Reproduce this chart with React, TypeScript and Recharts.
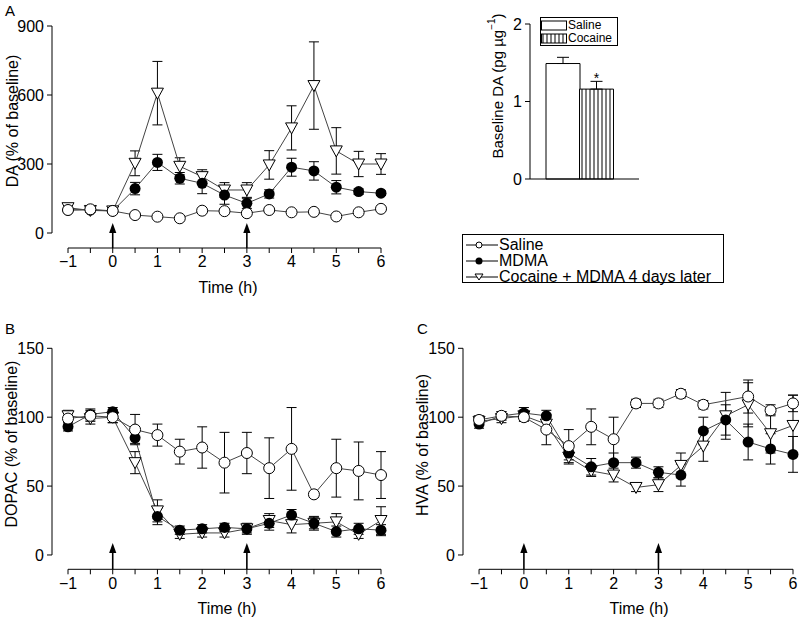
import React from 'react';
import {
  LineChart,
  Line,
  XAxis,
  YAxis,
  ErrorBar,
  ReferenceLine,
  Label,
  Legend,
  BarChart,
  Bar,
  Cell,
  LabelList,
} from 'recharts';

const FONT = '"Liberation Sans", Arial, Helvetica, sans-serif';

// time points (h)
const times = [-1, -0.5, 0, 0.5, 1, 1.5, 2, 2.5, 3, 3.5, 4, 4.5, 5, 5.5, 6];
const hourTicks = [-1, -0.5, 0, 0.5, 1, 1.5, 2, 2.5, 3, 3.5, 4, 4.5, 5, 5.5, 6];
const arrowTimes = [0, 3];
const seriesNames = ['Saline', 'MDMA', 'Cocaine + MDMA 4 days later'];

// A: DA
const daSaline = [100, 103, 96, 78, 71, 64, 97, 95, 86, 100, 90, 92, 72, 90, 105];
const daSalineErr = [6, 6, 6, 6, 6, 6, 8, 8, 6, 6, 6, 6, 6, 6, 6];
const daMdma = [100, 100, 96, 193, 307, 238, 216, 165, 129, 170, 286, 270, 199, 180, 173];
const daMdmaErr = [8, 8, 8, 27, 35, 25, 45, 40, 22, 18, 39, 40, 29, 12, 10];
const daCocaine = [110, 98, 96, 303, 608, 290, 245, 187, 187, 296, 457, 641, 357, 300, 300];
const daCocaineErr = [12, 8, 8, 54, 138, 37, 30, 32, 32, 62, 96, 190, 101, 55, 45];

// B: DOPAC
const dopacSaline = [99, 101, 100, 91, 87, 75, 78, 67, 74, 63, 77, 44, 63, 61, 58];
const dopacSalineErr = [4, 4, 4, 11, 8, 9, 15, 22, 15, 22, 30, 2, 21, 21, 17];
const dopacMdma = [93, 102, 104, 85, 28, 18, 19, 20, 19, 23, 29, 23, 17, 19, 18];
const dopacMdmaErr = [3, 4, 3, 4, 6, 3, 3, 3, 3, 5, 4, 5, 4, 4, 4];
const dopacCocaine = [101, 99, 100, 67, 32, 15, 16, 16, 19, 25, 22, 23, 24, 15, 25];
const dopacCocaineErr = [4, 4, 4, 8, 8, 3, 3, 3, 4, 5, 6, 4, 6, 3, 10];

// C: HVA
const hvaSaline = [98, 101, 100, 91, 79, 93, 84, 110, 110, 117, 109, null, 115, 105, 110];
const hvaSalineErr = [3, 3, 3, 11, 12, 13, 16, 3, 3, 3, 3, null, 12, 4, 6];
const hvaMdma = [95, 101, 103, 101, 74, 64, 67, 67, 60, 58, 90, 98, 82, 77, 73];
const hvaMdmaErr = [3, 3, 4, 4, 5, 6, 7, 4, 4, 8, 10, 11, 13, 11, 13];
const hvaCocaine = [97, 99, 101, 95, 71, 61, 58, 49, 51, 65, 79, 101, 109, 88, 94];
const hvaCocaineErr = [3, 3, 3, 5, 5, 4, 5, 3, 5, 9, 11, 17, 16, 14, 22];

// inset: baseline DA
const insetGroups = ['Saline', 'Cocaine'];
const insetValues = [1.49, 1.16];
const insetErrors = [0.08, 0.1];
const insetMarks = ['', '*'];

const X_MIN = -1.358;

const fmtHour = (v: number) =>
  Number.isInteger(v) ? (v < 0 ? `\u2212${-v}` : `${v}`) : '';

const makeRows = (
  sal: (number | null)[],
  salErr: (number | null)[],
  mdma: number[],
  mdmaErr: number[],
  coc: number[],
  cocErr: number[]
) =>
  times.map((t, i) => ({
    t,
    sal: sal[i],
    salErr: salErr[i],
    mdma: mdma[i],
    mdmaErr: mdmaErr[i],
    coc: coc[i],
    cocErr: cocErr[i],
  }));

const daRows = makeRows(daSaline, daSalineErr, daMdma, daMdmaErr, daCocaine, daCocaineErr);
const dopacRows = makeRows(dopacSaline, dopacSalineErr, dopacMdma, dopacMdmaErr, dopacCocaine, dopacCocaineErr);
const hvaRows = makeRows(hvaSaline, hvaSalineErr, hvaMdma, hvaMdmaErr, hvaCocaine, hvaCocaineErr);

const insetRows = insetGroups.map((g, i) => ({
  group: g,
  value: insetValues[i],
  err: [0, insetErrors[i]],
  mark: insetMarks[i],
}));

// markers
const openCircle = (p: any) =>
  p.cy == null || p.value == null ? (
    <g key={p.index} />
  ) : (
    <circle key={p.index} cx={p.cx} cy={p.cy} r={5.5} fill="#fff" stroke="#000" strokeWidth={1} />
  );

const filledCircle = (p: any) =>
  p.cy == null ? <g key={p.index} /> : <circle key={p.index} cx={p.cx} cy={p.cy} r={5.5} fill="#000" />;

const downTriangle = (p: any) => {
  if (p.cy == null) return <g key={p.index} />;
  const { cx, cy } = p;
  return (
    <polygon
      key={p.index}
      points={`${cx - 6},${cy - 5} ${cx + 6},${cy - 5} ${cx},${cy + 6}`}
      fill="#fff"
      stroke="#000"
      strokeWidth={1}
    />
  );
};

const arrowShape = (p: any) => {
  const { x1, y1, x2, y2 } = p;
  return (
    <g>
      <line x1={x1} y1={y1} x2={x2} y2={y2 + 8} stroke="#000" strokeWidth={1.6} />
      <polygon points={`${x2},${y2} ${x2 - 3.6},${y2 + 10} ${x2 + 3.6},${y2 + 10}`} fill="#000" />
    </g>
  );
};

const sideTitle = (text: string, x: number, y: number) => () => (
  <text
    x={x}
    y={y}
    transform={`rotate(-90 ${x} ${y})`}
    textAnchor="middle"
    dominantBaseline="central"
    fontSize={16}
    fontFamily={FONT}
    fill="#000"
  >
    {text}
  </text>
);

const bottomTitle = (x: number, y: number) => () => (
  <text x={x} y={y} textAnchor="middle" dominantBaseline="central" fontSize={16} fontFamily={FONT} fill="#000">
    Time (h)
  </text>
);

const tickStyle = { fill: '#000', fontSize: 16, fontFamily: FONT };

const SeriesKey = () => (
  <div
    style={{
      boxSizing: 'border-box',
      width: 262,
      height: 49,
      border: '1px solid #000',
      paddingTop: 2,
      paddingLeft: 2,
      fontFamily: FONT,
      fontSize: 16,
      lineHeight: '16px',
      background: '#fff',
    }}
  >
    {seriesNames.map((name, i) => (
      <div key={name} style={{ display: 'flex', alignItems: 'center', height: 16 }}>
        <svg width={34} height={14} style={{ display: 'block' }}>
          <line x1={1} y1={7} x2={33} y2={7} stroke="#000" strokeWidth={1} />
          {i === 0 && <circle cx={14} cy={7} r={3} fill="#fff" stroke="#000" />}
          {i === 1 && <circle cx={14} cy={7} r={3.5} fill="#000" />}
          {i === 2 && <polygon points="10,4 18,4 14,10" fill="#fff" stroke="#000" />}
        </svg>
        <span>{name}</span>
      </div>
    ))}
  </div>
);

const InsetKey = () => (
  <div
    style={{
      boxSizing: 'border-box',
      width: 78,
      height: 29,
      border: '1px solid #000',
      paddingTop: 0.5,
      fontFamily: FONT,
      fontSize: 12,
      lineHeight: '13.5px',
      background: '#fff',
    }}
  >
    {insetGroups.map((g) => (
      <div key={g} style={{ display: 'flex', alignItems: 'center', height: 13.5 }}>
        <svg width={27} height={11} style={{ display: 'block' }}>
          <rect
            x={0.5}
            y={1}
            width={25}
            height={9}
            fill={g === 'Cocaine' ? 'url(#vstripes)' : '#fff'}
            stroke="#000"
          />
        </svg>
        <span style={{ whiteSpace: 'nowrap' }}>{g}</span>
      </div>
    ))}
  </div>
);

type PanelProps = {
  width: number;
  height: number;
  top: number;
  right: number;
  xAxisHeight: number;
  data: any[];
  yMin: number;
  yMax: number;
  yTicks: number[];
  arrowTip: number;
  yTitle: string;
  yTitlePos: [number, number];
  xTitlePos: [number, number];
  withKey?: boolean;
};

const TimeCourse = ({
  width,
  height,
  top,
  right,
  xAxisHeight,
  data,
  yMin,
  yMax,
  yTicks,
  arrowTip,
  yTitle,
  yTitlePos,
  xTitlePos,
  withKey,
}: PanelProps) => (
  <LineChart width={width} height={height} data={data} margin={{ top, right, left: 0, bottom: 0 }}>
    <XAxis
      dataKey="t"
      type="number"
      domain={[X_MIN, 6]}
      ticks={hourTicks}
      interval={0}
      tickFormatter={fmtHour}
      axisLine={false}
      tickLine={{ stroke: '#000' }}
      tickSize={5}
      tickMargin={3}
      height={xAxisHeight}
      tick={tickStyle}
    >
      <Label content={bottomTitle(xTitlePos[0], xTitlePos[1])} />
    </XAxis>
    <YAxis
      type="number"
      domain={[yMin, yMax]}
      ticks={yTicks}
      interval={0}
      width={52}
      axisLine={false}
      tickLine={{ stroke: '#000' }}
      tickSize={5}
      tickMargin={3}
      tick={tickStyle}
    >
      <Label content={sideTitle(yTitle, yTitlePos[0], yTitlePos[1])} />
    </YAxis>
    <ReferenceLine
      segment={[{ x: X_MIN, y: 0 }, { x: X_MIN, y: yMax }]}
      stroke="#000"
      ifOverflow="visible"
    />
    <ReferenceLine
      segment={[{ x: -1, y: yMin }, { x: 6, y: yMin }]}
      stroke="#000"
      ifOverflow="visible"
    />
    {arrowTimes.map((t) => (
      <ReferenceLine
        key={t}
        segment={[{ x: t, y: yMin }, { x: t, y: arrowTip }]}
        shape={arrowShape}
        ifOverflow="visible"
      />
    ))}
    <Line
      dataKey="coc"
      stroke="#444"
      strokeWidth={1}
      dot={downTriangle}
      activeDot={false}
      isAnimationActive={false}
    >
      <ErrorBar dataKey="cocErr" width={5} stroke="#000" strokeWidth={1} direction="y" />
    </Line>
    <Line
      dataKey="mdma"
      stroke="#444"
      strokeWidth={1}
      dot={filledCircle}
      activeDot={false}
      isAnimationActive={false}
    >
      <ErrorBar dataKey="mdmaErr" width={5} stroke="#000" strokeWidth={1} direction="y" />
    </Line>
    <Line
      dataKey="sal"
      stroke="#444"
      strokeWidth={1}
      dot={openCircle}
      activeDot={false}
      connectNulls
      isAnimationActive={false}
    >
      <ErrorBar dataKey="salErr" width={5} stroke="#000" strokeWidth={1} direction="y" />
    </Line>
    {withKey && (
      <Legend
        layout="vertical"
        align="center"
        verticalAlign="middle"
        wrapperStyle={{ left: 462, top: 234, width: 262, height: 49 }}
        content={() => <SeriesKey />}
      />
    )}
  </LineChart>
);

const insetTitle = () => (
  <text
    x={17}
    y={86}
    transform="rotate(-90 17 86)"
    textAnchor="middle"
    dominantBaseline="central"
    fontSize={15}
    fontFamily={FONT}
    fill="#000"
  >
    Baseline DA (pg µg
    <tspan dy={-6} fontSize={10}>
      {'\u22121'}
    </tspan>
    <tspan dy={6}>)</tspan>
  </text>
);

const BaselineInset = () => (
  <BarChart
    width={170}
    height={200}
    data={insetRows}
    margin={{ top: 24, right: 11, left: 0, bottom: 0 }}
    barCategoryGap={0}
    barGap={0}
  >
    <defs>
      <pattern id="vstripes" width={4} height={4} patternUnits="userSpaceOnUse">
        <rect width={4} height={4} fill="#fff" />
        <line x1={2} y1={0} x2={2} y2={4} stroke="#000" strokeWidth={1} />
      </pattern>
    </defs>
    <XAxis
      dataKey="group"
      type="category"
      tick={false}
      tickLine={false}
      axisLine={{ stroke: '#000' }}
      height={21}
      padding={{ left: 16, right: 26 }}
    />
    <YAxis
      type="number"
      domain={[0, 2]}
      ticks={[0, 1, 2]}
      width={50}
      axisLine={{ stroke: '#000' }}
      tickLine={{ stroke: '#000' }}
      tickSize={5}
      tickMargin={3}
      tick={tickStyle}
    >
      <Label content={insetTitle} />
    </YAxis>
    <Bar dataKey="value" stroke="#000" strokeWidth={1} isAnimationActive={false}>
      {insetRows.map((r) => (
        <Cell key={r.group} fill={r.group === 'Cocaine' ? 'url(#vstripes)' : '#fff'} />
      ))}
      <ErrorBar dataKey="err" width={6} stroke="#000" strokeWidth={1} direction="y" />
      <LabelList dataKey="mark" position="top" offset={6} fill="#000" fontSize={14} fontFamily={FONT} />
    </Bar>
    <Legend
      layout="vertical"
      align="center"
      verticalAlign="middle"
      wrapperStyle={{ left: 60, top: 17, width: 78, height: 29 }}
      content={() => <InsetKey />}
    />
  </BarChart>
);

const panelLetter = (letter: string, left: number, top: number) => (
  <div
    style={{
      position: 'absolute',
      left,
      top,
      fontFamily: FONT,
      fontSize: 15,
      lineHeight: '15px',
      color: '#000',
    }}
  >
    {letter}
  </div>
);

export default function App() {
  return (
    <div
      style={{
        position: 'absolute',
        left: 0,
        top: 0,
        width: 799,
        height: 618,
        background: '#fff',
        overflow: 'hidden',
      }}
    >
      <div style={{ position: 'absolute', left: 0, top: 0 }}>
        <TimeCourse
          width={799}
          height={300}
          top={26}
          right={418}
          xAxisHeight={52}
          data={daRows}
          yMin={-65.2}
          yMax={900}
          yTicks={[0, 300, 600, 900]}
          arrowTip={43}
          yTitle="DA (% of baseline)"
          yTitlePos={[12, 121]}
          xTitlePos={[228, 287]}
          withKey
        />
      </div>
      <div style={{ position: 'absolute', left: 480, top: 0 }}>
        <BaselineInset />
      </div>
      <div style={{ position: 'absolute', left: 0, top: 300 }}>
        <TimeCourse
          width={400}
          height={318}
          top={48.3}
          right={19}
          xAxisHeight={48.7}
          data={dopacRows}
          yMin={-10.4}
          yMax={150}
          yTicks={[0, 50, 100, 150]}
          arrowTip={8.7}
          yTitle="DOPAC (% of baseline)"
          yTitlePos={[11, 144]}
          xTitlePos={[227, 308]}
        />
      </div>
      <div style={{ position: 'absolute', left: 411, top: 300 }}>
        <TimeCourse
          width={388}
          height={318}
          top={48.3}
          right={6}
          xAxisHeight={48.7}
          data={hvaRows}
          yMin={-10.4}
          yMax={150}
          yTicks={[0, 50, 100, 150]}
          arrowTip={8.7}
          yTitle="HVA (% of baseline)"
          yTitlePos={[11, 145]}
          xTitlePos={[228, 308]}
        />
      </div>
      {panelLetter('A', 5, 3)}
      {panelLetter('B', 5, 321)}
      {panelLetter('C', 417, 321)}
    </div>
  );
}
